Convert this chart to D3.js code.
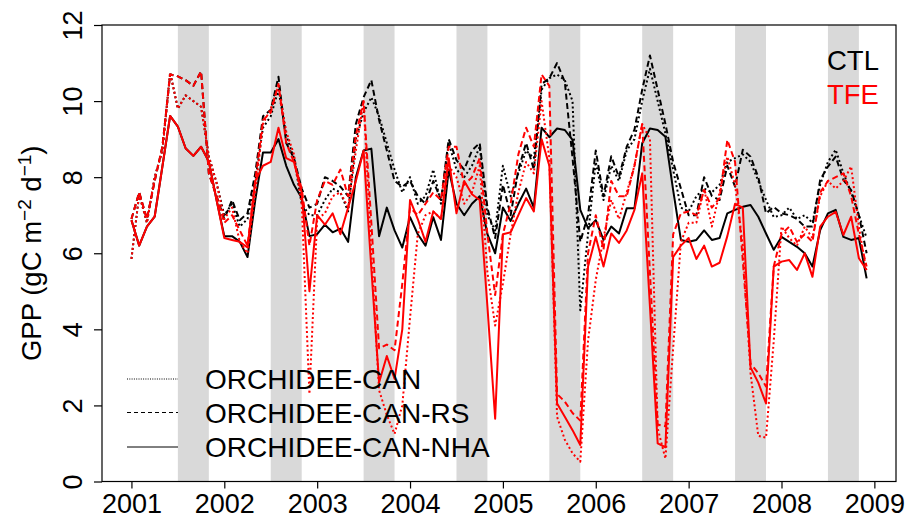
<!DOCTYPE html>
<html>
<head>
<meta charset="utf-8">
<script src="https://cdn.jsdelivr.net/npm/d3@7"></script>
<style>
  body { margin: 0; background: #fff; }
  svg { display: block; }
  text { font-family: "Liberation Sans", Arial, Helvetica, sans-serif; fill: #000; }
</style>
</head>
<body>
<svg id="chart" width="911" height="525"></svg>
<script>
// Monthly GPP (gC m-2 d-1), January 2001 to December 2008, one row per year
const startYear = 2001;
const xYears = [2001, 2002, 2003, 2004, 2005, 2006, 2007, 2008, 2009];
const yTicks = [0, 2, 4, 6, 8, 10, 12];
const dryYears = [2001, 2002, 2003, 2004, 2005, 2006, 2007, 2008]; // Jul-Oct shading

const modelNames = ["ORCHIDEE-CAN", "ORCHIDEE-CAN-RS", "ORCHIDEE-CAN-NHA"];
const experimentNames = ["CTL", "TFE"];

const ctlCAN = [
  5.85, 7.55, 6.8, 8.0, 8.7, 10.75, 9.8, 10.15, 10.0, 9.85, 8.55, 7.85,
  7.0, 7.3, 6.7, 6.9, 7.9, 9.3, 9.6, 10.3, 9.1, 8.5, 7.3, 7.0,
  7.0, 7.4, 7.7, 7.6, 7.1, 9.0, 9.7, 10.1, 9.6, 8.9, 8.2, 7.6,
  8.0, 7.3, 7.5, 8.2, 7.3, 8.9, 8.2, 8.0, 8.3, 8.8, 7.0, 6.6,
  8.3, 7.5, 8.1, 8.7, 8.5, 10.3, 10.6, 10.7, 10.55, 10.0, 4.5, 6.5,
  8.4, 7.4, 8.3, 7.9, 8.7, 9.0, 10.0, 10.85, 10.0, 9.15, 8.2, 7.2,
  7.1, 7.5, 7.7, 7.6, 7.8, 8.4, 8.5, 8.6, 8.4, 7.9, 7.4, 6.95,
  7.0, 7.2, 6.9, 7.0, 6.8, 7.8, 8.4, 8.72, 8.1, 7.6, 7.0, 6.4
];
const ctlRS = [
  6.9, 7.6, 6.9, 7.9, 8.8, 10.7, 10.65, 10.55, 10.4, 10.78, 8.1, 7.5,
  6.9, 7.4, 6.87, 7.05, 8.1, 9.6, 9.77, 10.64, 8.9, 8.5, 7.7, 7.2,
  7.3, 8.0, 7.9, 7.75, 7.5, 9.4, 10.1, 10.55, 9.5, 8.7, 7.9, 7.75,
  7.9, 7.5, 7.3, 7.9, 7.4, 9.0, 8.45, 8.2, 8.7, 8.9, 7.2, 6.4,
  7.8, 7.0, 8.2, 8.9, 8.2, 10.45, 10.6, 11.0, 10.5, 8.5, 6.3, 7.0,
  8.7, 7.5, 8.55, 8.0, 8.8, 9.25, 10.3, 11.2, 10.3, 9.4, 8.4, 7.7,
  7.0, 7.0, 8.0, 7.5, 7.4, 8.3, 7.75, 8.72, 8.54, 8.0, 7.05, 7.22,
  7.05, 7.0, 6.9, 6.7, 6.7, 7.93, 8.28, 8.54, 7.93, 7.66, 7.0, 6.0
];
const ctlNHA = [
  6.87, 6.2, 6.7, 6.96, 8.28, 9.61, 9.33, 8.76, 8.56, 8.8, 8.41, 7.4,
  6.45, 6.45, 6.3, 5.9, 7.4, 8.65, 8.65, 9.0, 8.3, 7.8, 7.45, 6.45,
  6.5, 6.75, 6.55, 6.65, 6.3, 8.0, 8.7, 8.75, 6.45, 7.2, 6.6, 6.15,
  6.95, 6.5, 6.2, 6.95, 6.35, 8.2, 7.3, 7.0, 7.3, 7.5, 6.5, 6.0,
  7.2, 6.85, 7.3, 7.7, 7.2, 9.3, 9.05, 9.28, 9.24, 8.98, 7.14, 6.66,
  6.87, 6.35, 6.7, 6.52, 7.18, 7.18, 8.89, 9.28, 9.24, 9.06, 7.66, 6.35,
  6.3, 6.35, 6.6, 6.35, 6.4, 7.05, 7.14, 7.22, 7.27, 6.96, 6.52, 6.09,
  6.43, 6.3, 6.17, 6.0, 5.65, 6.61, 7.05, 7.14, 6.43, 6.35, 6.4, 5.34
];
const tfeCAN = [
  5.85, 7.55, 6.8, 8.0, 8.7, 10.75, 9.8, 10.15, 10.0, 9.85, 8.55, 7.85,
  6.9, 7.2, 6.3, 6.0, 7.6, 9.4, 9.8, 10.4, 9.2, 8.6, 7.3, 2.3,
  6.9, 7.05, 7.5, 7.6, 7.2, 8.7, 10.0, 6.0, 2.4, 1.75, 1.25, 2.0,
  4.3, 6.5, 7.0, 7.1, 6.9, 8.3, 8.0, 7.3, 7.6, 8.3, 5.5, 4.1,
  5.2, 6.5, 7.6, 8.4, 8.1, 10.0, 8.5, 1.7, 1.1, 0.74, 0.52, 3.7,
  5.3, 6.4, 7.4, 6.9, 7.6, 8.3, 9.4, 9.0, 1.4, 0.6, 3.5, 6.3,
  6.8, 6.8, 7.7, 6.7, 7.6, 8.54, 7.8, 6.2, 2.85, 1.2, 1.15, 3.7,
  6.7, 6.4, 6.2, 6.7, 6.4, 7.5, 7.9, 7.7, 7.9, 8.28, 6.7, 5.5
];
const tfeRS = [
  6.9, 7.6, 6.9, 7.9, 8.8, 10.7, 10.65, 10.55, 10.4, 10.78, 8.1, 7.5,
  6.8, 7.0, 6.6, 6.2, 7.9, 9.5, 9.7, 10.45, 8.9, 8.4, 7.7, 6.2,
  7.4, 7.9, 7.8, 8.2, 7.5, 9.1, 10.0, 6.8, 3.5, 3.6, 3.45, 5.2,
  7.2, 7.0, 7.3, 7.6, 7.4, 8.8, 8.8, 7.8, 8.0, 8.5, 6.5, 4.9,
  6.5, 7.3, 8.6, 9.3, 8.8, 10.7, 10.4, 2.3, 2.1, 1.8, 1.6, 6.0,
  7.0, 6.1, 7.9, 7.5, 7.5, 8.3, 9.4, 5.5, 1.5, 1.45, 6.5, 7.05,
  7.1, 7.0, 7.66, 7.2, 7.45, 8.98, 8.4, 5.8, 3.1, 2.85, 2.5, 5.65,
  6.5, 6.7, 6.3, 6.5, 6.3, 7.6, 7.9, 8.0, 8.1, 7.5, 6.5, 5.65
];
const tfeNHA = [
  6.87, 6.2, 6.7, 6.96, 8.28, 9.61, 9.33, 8.76, 8.56, 8.8, 8.41, 7.4,
  6.4, 6.35, 6.3, 6.15, 7.9, 8.3, 8.4, 9.3, 8.5, 8.4, 7.6, 5.0,
  7.0, 6.75, 7.05, 6.5, 7.2, 7.9, 8.7, 5.6, 2.6, 3.3, 2.7, 4.0,
  7.4, 6.9, 6.3, 7.1, 6.9, 8.5, 7.05, 7.9, 7.55, 7.4, 4.6, 1.65,
  6.5, 6.55, 7.0, 7.45, 7.1, 9.0, 8.3, 2.05, 1.7, 1.35, 0.96, 5.65,
  6.43, 5.65, 6.52, 6.27, 6.6, 7.14, 8.1, 4.6, 1.0, 0.9, 5.9, 6.2,
  6.4, 5.85, 6.2, 5.65, 5.75, 6.45, 7.3, 7.2, 3.0, 2.6, 2.05, 5.65,
  5.78, 5.82, 5.56, 6.0, 5.38, 6.7, 6.96, 7.09, 6.48, 6.96, 5.87, 5.56
];

// Control runs first, throughfall-exclusion runs drawn on top
const series = [
  { values: ctlCAN, model: 0, exp: 0 },
  { values: ctlRS,  model: 1, exp: 0 },
  { values: ctlNHA, model: 2, exp: 0 },
  { values: tfeCAN, model: 0, exp: 1 },
  { values: tfeRS,  model: 1, exp: 1 },
  { values: tfeNHA, model: 2, exp: 1 }
];

const expColor = ["#000000", "#ff0000"];
const modelDash = ["2,2.6", "6,3.5", null];
const legendDash = ["1,1.3", "4,3", null];

const svg = d3.select("#chart");
const plotLeft = 102, plotRight = 896, plotTop = 25, plotBottom = 481.5;

const x = d3.scaleLinear().domain([2000.683, 2009.233]).range([plotLeft, plotRight]);
const y = d3.scaleLinear().domain([0, 12]).range([plotBottom, plotTop]);

// Jul-Oct shading for each year
svg.append("g").selectAll("rect")
  .data(dryYears)
  .join("rect")
  .attr("x", d => x(d + 6 / 12))
  .attr("width", d => x(d + 10 / 12) - x(d + 6 / 12))
  .attr("y", plotTop)
  .attr("height", plotBottom - plotTop)
  .attr("fill", "#d9d9d9");

// Series lines
const line = d3.line()
  .x((d, i) => x(startYear + i / 12))
  .y(d => y(d));

svg.append("g").selectAll("path")
  .data(series)
  .join("path")
  .attr("d", d => line(d.values))
  .attr("fill", "none")
  .attr("stroke", d => expColor[d.exp])
  .attr("stroke-width", 2)
  .attr("stroke-linejoin", "round")
  .attr("stroke-dasharray", d => modelDash[d.model]);

// Plot frame
svg.append("rect")
  .attr("x", plotLeft).attr("y", plotTop)
  .attr("width", plotRight - plotLeft).attr("height", plotBottom - plotTop)
  .attr("fill", "none").attr("stroke", "#000").attr("stroke-width", 1.2);

// Bottom axis
const xAxis = svg.append("g")
  .attr("transform", `translate(0,${plotBottom})`)
  .call(d3.axisBottom(x).tickValues(xYears).tickFormat(d3.format("d")).tickSize(7));
xAxis.select(".domain").remove();
xAxis.selectAll("line").attr("stroke", "#000").attr("stroke-width", 1.2);
xAxis.selectAll("text")
  .attr("y", 31).attr("dy", null)
  .style("font-size", "27px")
  .attr("font-family", null);

// Left axis, labels written upward
const yAxis = svg.append("g")
  .attr("transform", `translate(${plotLeft},0)`)
  .call(d3.axisLeft(y).tickValues(yTicks).tickSize(8));
yAxis.select(".domain").remove();
yAxis.selectAll("line").attr("stroke", "#000").attr("stroke-width", 1.2);
yAxis.selectAll("text")
  .attr("x", 0).attr("y", -20).attr("dy", null)
  .attr("transform", "rotate(-90)")
  .attr("text-anchor", "middle")
  .style("font-size", "27px")
  .attr("font-family", null);

// Axis title
const title = svg.append("text")
  .attr("transform", `translate(41,${(plotTop + plotBottom) / 2}) rotate(-90)`)
  .attr("text-anchor", "middle")
  .style("font-size", "27.5px");
title.append("tspan").text("GPP (gC m");
title.append("tspan").attr("baseline-shift", "super").style("font-size", "19px").text("\u22122");
title.append("tspan").text(" d");
title.append("tspan").attr("baseline-shift", "super").style("font-size", "19px").text("\u22121");
title.append("tspan").text(")");

// Model legend
const legend = svg.append("g");
const legendY = [379, 412.5, 447];
modelNames.forEach((name, i) => {
  legend.append("line")
    .attr("x1", 127).attr("x2", 178)
    .attr("y1", legendY[i]).attr("y2", legendY[i])
    .attr("stroke", "#000").attr("stroke-width", 1)
    .attr("stroke-dasharray", legendDash[i]);
  legend.append("text")
    .attr("x", 205).attr("y", legendY[i] + 10)
    .style("font-size", "28px")
    .text(name);
});

// Experiment legend
experimentNames.forEach((name, i) => {
  svg.append("text")
    .attr("x", 827).attr("y", 70 + i * 34)
    .style("font-size", "27.5px")
    .style("fill", expColor[i])
    .text(name);
});
</script>
</body>
</html>
